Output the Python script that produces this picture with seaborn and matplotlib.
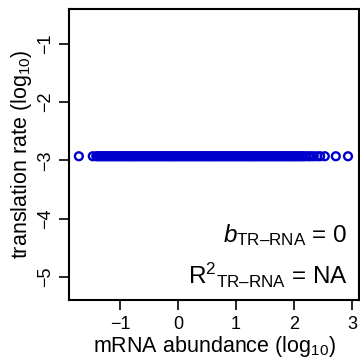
import matplotlib
matplotlib.use("Agg")
import matplotlib.pyplot as plt
import seaborn as sns
import pandas as pd

# mRNA abundance (log10); the genes are packed so tightly
# between -1.4 and 2.2 that their rings merge into one solid band
mrna_log = [-1.71, -1.47,
            -1.41, -1.38, -1.35, -1.32, -1.29, -1.26, -1.23, -1.20, -1.17, -1.14,
            -1.11, -1.08, -1.05, -1.02, -0.99, -0.96, -0.93, -0.90, -0.87, -0.84,
            -0.81, -0.78, -0.75, -0.72, -0.69, -0.66, -0.63, -0.60, -0.57, -0.54,
            -0.51, -0.48, -0.45, -0.42, -0.39, -0.36, -0.33, -0.30, -0.27, -0.24,
            -0.21, -0.18, -0.15, -0.12, -0.09, -0.06, -0.03, 0.00, 0.03, 0.06,
            0.09, 0.12, 0.15, 0.18, 0.21, 0.24, 0.27, 0.30, 0.33, 0.36,
            0.39, 0.42, 0.45, 0.48, 0.51, 0.54, 0.57, 0.60, 0.63, 0.66,
            0.69, 0.72, 0.75, 0.78, 0.81, 0.84, 0.87, 0.90, 0.93, 0.96,
            0.99, 1.02, 1.05, 1.08, 1.11, 1.14, 1.17, 1.20, 1.23, 1.26,
            1.29, 1.32, 1.35, 1.38, 1.41, 1.44, 1.47, 1.50, 1.53, 1.56,
            1.59, 1.62, 1.65, 1.68, 1.71, 1.74, 1.77, 1.80, 1.83, 1.86,
            1.89, 1.92, 1.95, 1.98, 2.01, 2.04, 2.07, 2.10, 2.13, 2.16,
            2.20, 2.25, 2.29, 2.34, 2.40, 2.45,
            2.53, 2.72, 2.93]
tr_level = -2.93
slope_txt = "0"
r2_txt = "NA"
sub = "TR\u2013RNA"

df = pd.DataFrame({"mrna": mrna_log, "tr": [tr_level] * len(mrna_log)})

sns.set_style("white")
plt.rcParams["font.family"] = ["Liberation Sans", "DejaVu Sans"]
plt.rcParams["mathtext.fontset"] = "custom"
plt.rcParams["mathtext.rm"] = "Liberation Sans"
plt.rcParams["mathtext.it"] = "Liberation Sans:italic"
for key in ["text.color", "axes.labelcolor", "xtick.color", "ytick.color"]:
    plt.rcParams[key] = "black"

fig = plt.figure(figsize=(3.6, 3.59), dpi=100)
ax = fig.add_axes([69 / 360, 1 - 300 / 359, 290 / 360, 291 / 359])

sns.scatterplot(data=df, x="mrna", y="tr", ax=ax, marker="o", s=32,
                facecolor="none", edgecolor="#0000CD", linewidth=1.7)

ax.set_xlim(-1.88, 3.12)
ax.set_ylim(-5.4, -0.4)
ax.set_xticks([-1, 0, 1, 2, 3])
ax.set_yticks([-1, -2, -3, -4, -5])
ax.set_xticklabels(["\u22121", "0", "1", "2", "3"])
ax.set_yticklabels(["\u22121", "\u22122", "\u22123", "\u22124", "\u22125"],
                   rotation=90, va="center")
ax.tick_params(direction="out", length=7.5, width=1.2, labelsize=13,
               bottom=True, left=True, pad=3)
ax.tick_params(axis="x", pad=4)
for sp in ax.spines.values():
    sp.set_color("black")
    sp.set_linewidth(1.5)

ax.set_xlabel("mRNA abundance (log$_{10}$)", fontsize=15.5, labelpad=0)
ax.set_ylabel("translation rate (log$_{10}$)", fontsize=15.5, labelpad=0)
ax.xaxis.set_label_coords(0.5, -0.118)
ax.yaxis.set_label_coords(-0.122, 0.5)

ax.text(0.96, 0.223, "$\\mathit{b}_{\\mathrm{" + sub + "}}$ = " + slope_txt,
        transform=ax.transAxes, ha="right", va="center", fontsize=17.5)
ax.text(0.96, 0.086, "R$^2$$_{\\mathrm{" + sub + "}}$ = " + r2_txt,
        transform=ax.transAxes, ha="right", va="center", fontsize=17.5)

fig.savefig("out.png", dpi=100)
